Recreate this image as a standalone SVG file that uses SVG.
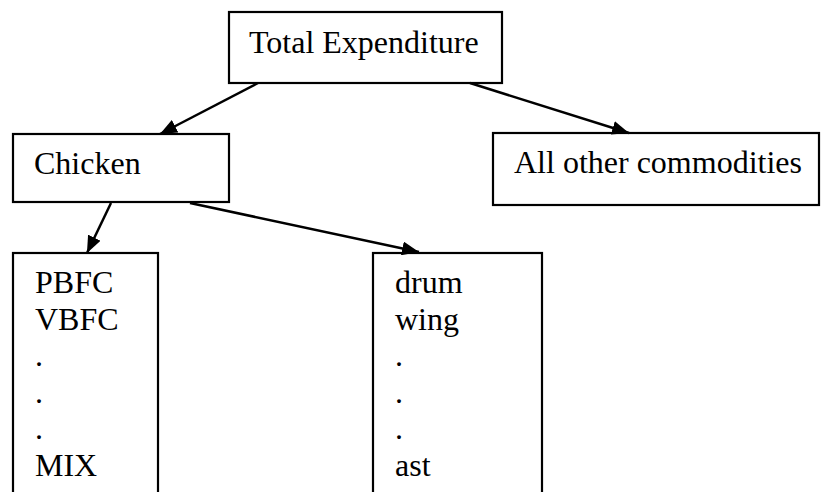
<svg xmlns="http://www.w3.org/2000/svg" width="821" height="492" viewBox="0 0 821 492">
<style>
.box{fill:#fff;stroke:#000;stroke-width:2.2}
.t{font-family:"Liberation Serif","Times New Roman",serif;font-size:32px;fill:#000}
.c{stroke:#000;stroke-width:2.5;fill:none}
</style>
<defs>
<marker id="ah" markerUnits="userSpaceOnUse" markerWidth="18" markerHeight="14" refX="17" refY="7" orient="auto">
<path d="M0,0 L17,7 L0,14 z" fill="#000"/>
</marker>
</defs>
<rect width="821" height="492" fill="#fff"/>
<g id="total">
<rect class="box" x="229" y="12" width="273" height="71"/>
<text class="t" x="249" y="53">Total Expenditure</text>
</g>
<g id="chicken">
<rect class="box" x="13" y="134" width="216" height="68"/>
<text class="t" x="34" y="174">Chicken</text>
</g>
<g id="other">
<rect class="box" x="493" y="133" width="326" height="72"/>
<text class="t" x="514" y="173">All other commodities</text>
</g>
<g id="types">
<rect class="box" x="13" y="253" width="145" height="260"/>
<text class="t" x="35" y="293">PBFC</text>
<text class="t" x="35" y="329.5">VBFC</text>
<text class="t" x="35" y="366">.</text>
<text class="t" x="35" y="403">.</text>
<text class="t" x="35" y="439">.</text>
<text class="t" x="35" y="476">MIX</text>
</g>
<g id="parts">
<rect class="box" x="373" y="253" width="169" height="260"/>
<text class="t" x="395" y="293">drum</text>
<text class="t" x="395" y="329.5">wing</text>
<text class="t" x="395" y="366">.</text>
<text class="t" x="395" y="403">.</text>
<text class="t" x="395" y="439">.</text>
<text class="t" x="395" y="476">ast</text>
</g>
<g id="connectors">
<line class="c" x1="258" y1="83" x2="160" y2="134" marker-end="url(#ah)"/>
<line class="c" x1="470" y1="83" x2="629" y2="133" marker-end="url(#ah)"/>
<line class="c" x1="111" y1="203" x2="87" y2="253" marker-end="url(#ah)"/>
<line class="c" x1="190" y1="203" x2="419" y2="252" marker-end="url(#ah)"/>
</g>
</svg>
